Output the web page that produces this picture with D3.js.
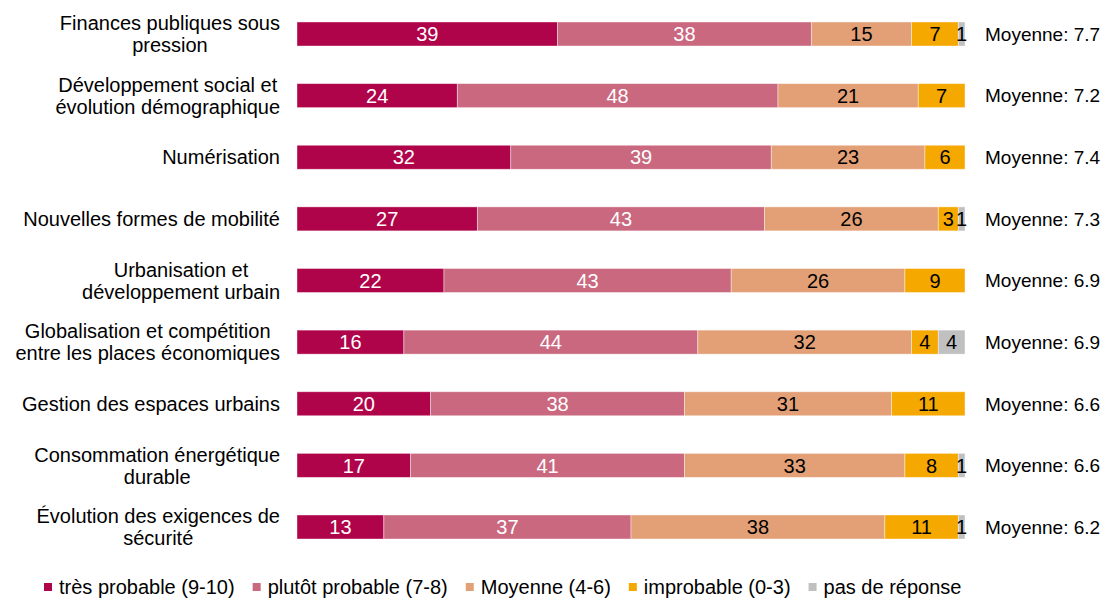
<!DOCTYPE html>
<html>
<head>
<meta charset="utf-8">
<script src="https://cdn.jsdelivr.net/npm/d3@7"></script>
<style>
  body { margin: 0; background: #fff; }
  text { font-family: "Liberation Sans", Arial, sans-serif; }
</style>
</head>
<body>
<svg id="chart" width="1103" height="600"></svg>
<script>
const categories = [
  ["Finances publiques sous", "pression"],
  ["Développement social et", "évolution démographique"],
  ["Numérisation"],
  ["Nouvelles formes de mobilité"],
  ["Urbanisation et", "développement urbain"],
  ["Globalisation et compétition", "entre les places économiques"],
  ["Gestion des espaces urbains"],
  ["Consommation énergétique", "durable"],
  ["Évolution des exigences de", "sécurité"]
];
const seriesNames = ["très probable (9-10)", "plutôt probable (7-8)", "Moyenne (4-6)", "improbable (0-3)", "pas de réponse"];
const tresProbable   = [39, 24, 32, 27, 22, 16, 20, 17, 13];
const plutotProbable = [38, 48, 39, 43, 43, 44, 38, 41, 37];
const moyenne        = [15, 21, 23, 26, 26, 32, 31, 33, 38];
const improbable     = [7, 7, 6, 3, 9, 4, 11, 8, 11];
const pasDeReponse   = [1, 0, 0, 1, 0, 4, 0, 1, 1];
const moyennes       = [7.7, 7.2, 7.4, 7.3, 6.9, 6.9, 6.6, 6.6, 6.2];

const colors = ["#B0044A", "#C9687F", "#E3A077", "#F5A800", "#C0C0C0"];
const labelColors = ["#fff", "#fff", "#000", "#000", "#000"];

const seriesValues = [tresProbable, plutotProbable, moyenne, improbable, pasDeReponse];
const keys = seriesNames;
const rows = categories.map((c, i) => {
  const r = { idx: i };
  keys.forEach((k, j) => r[k] = seriesValues[j][i]);
  return r;
});
const stacked = d3.stack().keys(keys)(rows);

const svg = d3.select("#chart");
const x = d3.scaleLinear().domain([0, 100]).range([297, 965]);
const y = d3.scalePoint().domain(d3.range(categories.length)).range([34, 527]);
const barH = 24;
const FS = 20;

// bars
const layers = svg.append("g").selectAll("g").data(stacked).join("g")
  .attr("fill", (d, i) => colors[i]);
layers.selectAll("rect").data(d => d).join("rect")
  .attr("x", d => x(d[0]))
  .attr("y", d => y(d.data.idx) - barH / 2)
  .attr("width", d => Math.max(0, x(d[1]) - x(d[0])))
  .attr("height", barH)
  .attr("stroke", "#fff")
  .attr("stroke-opacity", 0.5)
  .attr("stroke-width", 0.8);

// value labels
stacked.forEach((layer, i) => {
  svg.append("g").selectAll("text").data(layer.filter(d => d[1] - d[0] > 0)).join("text")
    .attr("x", d => x((d[0] + d[1]) / 2))
    .attr("y", d => y(d.data.idx))
    .attr("dy", "0.36em")
    .attr("text-anchor", "middle")
    .attr("font-size", FS)
    .attr("fill", labelColors[i])
    .text(d => d[1] - d[0]);
});

// category labels (centered lines, block right-aligned)
const labelRight = 280;
const lineH = 22;
categories.forEach((lines, i) => {
  const g = svg.append("g");
  const texts = g.selectAll("text").data(lines).join("text")
    .attr("font-size", FS)
    .attr("fill", "#000")
    .attr("text-anchor", "middle")
    .attr("dy", "0.36em")
    .text(d => d);
  let maxW = 0;
  texts.each(function () { maxW = Math.max(maxW, this.getComputedTextLength()); });
  const cx = labelRight - maxW / 2;
  const n = lines.length;
  texts.attr("x", cx)
    .attr("y", (d, k) => y(i) + (k - (n - 1) / 2) * lineH);
});

// averages
svg.append("g").selectAll("text").data(moyennes).join("text")
  .attr("x", 985)
  .attr("y", (d, i) => y(i))
  .attr("dy", "0.36em")
  .attr("font-size", 19)
  .attr("fill", "#000")
  .text(d => "Moyenne: " + d3.format(".1f")(d));

// legend
const leg = svg.append("g");
let lx = 44;
const ly = 587;
seriesNames.forEach((name, i) => {
  leg.append("rect").attr("x", lx).attr("y", ly - 4).attr("width", 8).attr("height", 8).attr("fill", colors[i]);
  const t = leg.append("text").attr("x", lx + 15).attr("y", ly).attr("dy", "0.36em")
    .attr("font-size", FS).attr("fill", "#000").text(name);
  lx += 15 + t.node().getComputedTextLength() + 18;
});
</script>
</body>
</html>
